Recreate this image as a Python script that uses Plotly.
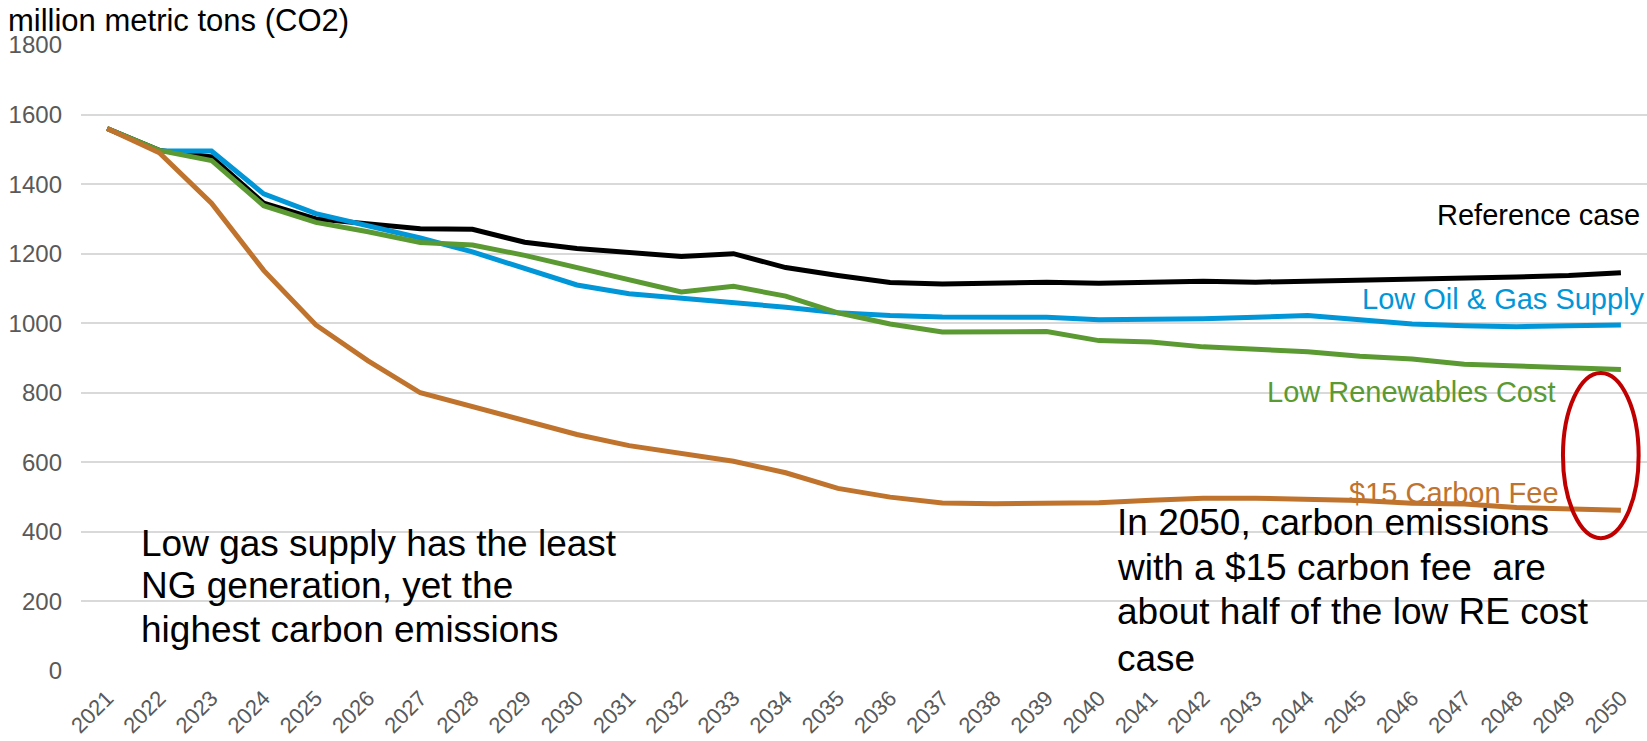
import plotly.graph_objects as go

# Years on the category axis
years = [str(y) for y in range(2021, 2051)]

# CO2 emissions, million metric tons
reference_case = [1560, 1497, 1478, 1345, 1300, 1285, 1272, 1270, 1233, 1215,
                  1203, 1192, 1200, 1160, 1137, 1117, 1113, 1116, 1118, 1115,
                  1118, 1121, 1118, 1121, 1121, 1124, 1127, 1133, 1137, 1145]
low_oil_gas_supply = [1560, 1495, 1495, 1372, 1315, 1280, 1245, 1205, 1157, 1110,
                      1085, 1072, 1060, 1046, 1030, 1022, 1018, 1017, 1017, 1010,
                      1010, 1013, 1017, 1022, 1010, 998, 993, 990, 993, 995]
low_renewables_cost = [1560, 1497, 1468, 1338, 1290, 1263, 1232, 1225, 1195, 1160,
                       1122, 1090, 1106, 1078, 1030, 998, 975, 977, 976, 950,
                       946, 932, 925, 918, 905, 897, 882, 877, 873, 867]
carbon_fee_15 = [1560, 1490, 1345, 1152, 995, 892, 800, 760, 722, 680,
                 648, 626, 603, 570, 525, 500, 483, 481, 482, 484,
                 491, 497, 497, 494, 490, 482, 480, 470, 465, 462]

y_ticks = [0, 200, 400, 600, 800, 1000, 1200, 1400, 1600, 1800]

FONT = "Arial, Liberation Sans, sans-serif"
W, H = 1647, 741
L_MARGIN, T_MARGIN, B_MARGIN = 81, 45, 70
PLOT_W = W - L_MARGIN

series = [
    ("Reference case", reference_case, "#000000"),
    ("Low Oil & Gas Supply", low_oil_gas_supply, "#0096D8"),
    ("Low Renewables Cost", low_renewables_cost, "#5B9A33"),
    ("$15 Carbon Fee", carbon_fee_15, "#C0732D"),
]

fig = go.Figure()
for name, vals, color in series:
    fig.add_trace(go.Scatter(
        x=years, y=vals, mode="lines", name=name,
        line=dict(color=color, width=5),
    ))

# Direct series labels (text, y position in data units, x offset from right edge)
labels = [
    ("Reference case", 1311, -5, "#000000"),
    ("Low Oil & Gas Supply", 1070, 0, "#0096D8"),
    ("Low Renewables Cost", 802, -89, "#5B9A33"),
    ("$15 Carbon Fee", 512, -86, "#C0732D"),
]
annotations = []
for text, yv, xs, color in labels:
    annotations.append(dict(
        text=text, xref="paper", x=1, xshift=xs, xanchor="right",
        yref="y", y=yv, yanchor="middle", showarrow=False,
        font=dict(family=FONT, size=29, color=color),
    ))

# Axis unit title above the value axis
annotations.append(dict(
    text="million metric tons (CO2)", xref="paper", yref="paper",
    x=-L_MARGIN / PLOT_W, xshift=6, xanchor="left", y=1, yshift=25, yanchor="middle",
    showarrow=False, font=dict(family=FONT, size=31, color="#000000"),
))

# Commentary text blocks, one annotation per line
notes = [
    (139, [(368, "Low gas supply has the least"),
           (247, "NG generation, yet the"),
           (118, "highest carbon emissions")]),
    (1115, [(426, "In 2050, carbon emissions"),
            (299, "with a $15 carbon fee  are"),
            (170, "about half of the low RE cost"),
            (35, "case")]),
]
for left_px, lines in notes:
    for yv, text in lines:
        annotations.append(dict(
            text=text, xref="paper", x=(left_px - L_MARGIN) / PLOT_W, xanchor="left",
            yref="y", y=yv, yanchor="middle", showarrow=False,
            font=dict(family=FONT, size=37, color="#000000"),
        ))

fig.update_layout(
    width=W, height=H,
    margin=dict(l=L_MARGIN, r=0, t=T_MARGIN, b=B_MARGIN),
    paper_bgcolor="white", plot_bgcolor="white",
    showlegend=False,
    annotations=annotations,
    shapes=[dict(type="circle", xref="x", yref="y",
                 x0=27.89, x1=29.34, y0=382, y1=857,
                 line=dict(color="#C00000", width=4))],
    xaxis=dict(
        type="category", range=[-0.5, 29.5], tickangle=-45,
        showgrid=False, showline=False, zeroline=False, ticks="",
        ticklabelstandoff=9,
        tickfont=dict(family=FONT, size=22, color="#595959"),
        automargin=False,
    ),
    yaxis=dict(
        range=[0, 1800], tickvals=y_ticks, showgrid=True,
        gridcolor="#D9D9D9", gridwidth=1.5, zeroline=False, showline=False,
        ticks="", ticklabelstandoff=18,
        tickfont=dict(family=FONT, size=24, color="#595959"),
        automargin=False,
    ),
)

fig.write_html("out.html")
